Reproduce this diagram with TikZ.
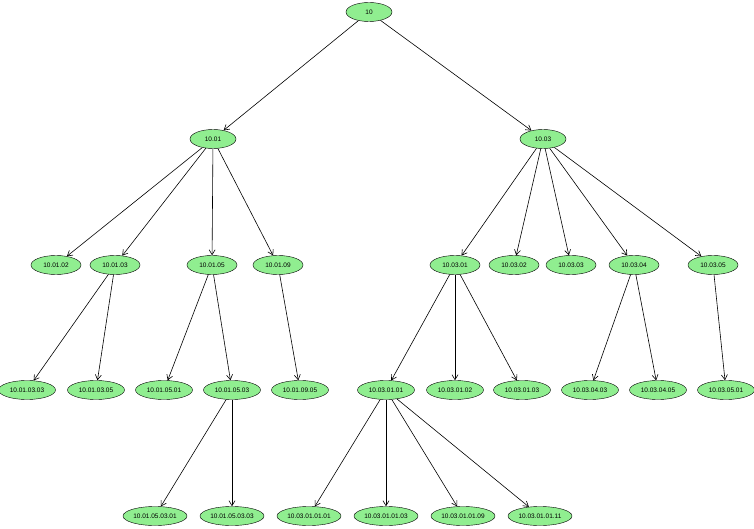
\documentclass[tikz,border=0pt]{standalone}
\usepackage{fontspec}
\setmainfont{Liberation Sans}
\usetikzlibrary{shapes.geometric,arrows.meta}
\begin{document}
\begin{tikzpicture}[x=1pt,y=-1pt,
  nd/.style={ellipse,draw,fill=green!45!white!95!black,fill=lightgreen,inner sep=0pt,minimum height=19pt,font=\fontsize{6.5}{7}\selectfont},
  n1/.style={nd,minimum width=46pt},
  n2/.style={nd,minimum width=50pt},
  n3/.style={nd,minimum width=57pt},
  n4/.style={nd,minimum width=64pt},
  ar/.style={-{Straight Barb[length=5pt,width=6pt]},line width=0.6pt}]
\definecolor{lightgreen}{RGB}{144,238,144}
\useasboundingbox (0,0) rectangle (754,529);
\node[n1] (a) at (369,12) {10};
\node[n1] (b1) at (213,139) {10.01};
\node[n1] (b3) at (543,139) {10.03};
\node[n2] (c12) at (56,265) {10.01.02};
\node[n2] (c13) at (115,265) {10.01.03};
\node[n2] (c15) at (212,265) {10.01.05};
\node[n2] (c19) at (278,265) {10.01.09};
\node[n2] (c31) at (455,265) {10.03.01};
\node[n2] (c32) at (514,265) {10.03.02};
\node[n2] (c33) at (571,265) {10.03.03};
\node[n2] (c34) at (634,265) {10.03.04};
\node[n2] (c35) at (713,265) {10.03.05};
\node[n3] (d133) at (27,390) {10.01.03.03};
\node[n3] (d135) at (96,390) {10.01.03.05};
\node[n3] (d151) at (164,390) {10.01.05.01};
\node[n3] (d153) at (232,390) {10.01.05.03};
\node[n3] (d195) at (300,390) {10.01.09.05};
\node[n3] (d311) at (386,390) {10.03.01.01};
\node[n3] (d312) at (455,390) {10.03.01.02};
\node[n3] (d313) at (522,390) {10.03.01.03};
\node[n3] (d343) at (590,390) {10.03.04.03};
\node[n3] (d345) at (658,390) {10.03.04.05};
\node[n3] (d351) at (726,390) {10.03.05.01};
\node[n4] (e1) at (155,516) {10.01.05.03.01};
\node[n4] (e2) at (232,516) {10.01.05.03.03};
\node[n4] (e3) at (309,516) {10.03.01.01.01};
\node[n4] (e4) at (386,516) {10.03.01.01.03};
\node[n4] (e5) at (463,516) {10.03.01.01.09};
\node[n4] (e6) at (540,516) {10.03.01.01.11};
\foreach \s/\t in {a/b1,a/b3,b1/c12,b1/c13,b1/c15,b1/c19,b3/c31,b3/c32,b3/c33,b3/c34,b3/c35,
 c13/d133,c13/d135,c15/d151,c15/d153,c19/d195,c31/d311,c31/d312,c31/d313,c34/d343,c34/d345,c35/d351,
 d153/e1,d153/e2,d311/e3,d311/e4,d311/e5,d311/e6}
  \draw[ar] (\s) -- (\t);
\end{tikzpicture}
\end{document}
